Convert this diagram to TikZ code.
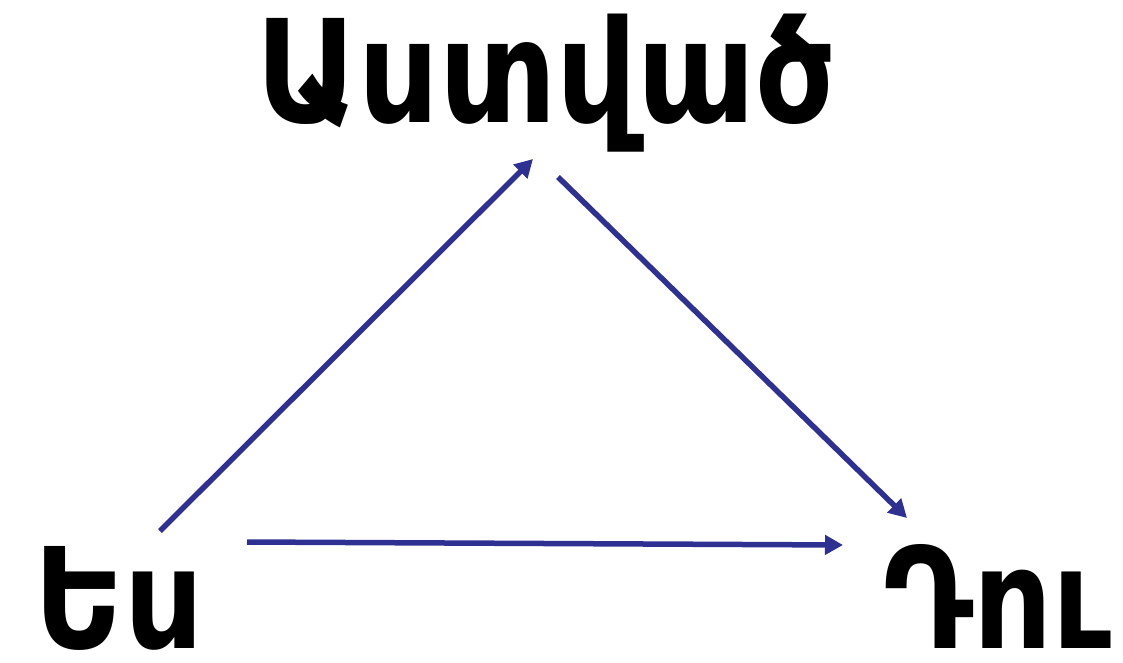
\documentclass[tikz,border=0pt]{standalone}
\usepackage{fontspec}
\newfontfamily\armfont{DejaVu Sans}
\usetikzlibrary{arrows.meta}
\definecolor{arrowblue}{HTML}{2E3192}
\newcommand{\narrow}[1]{\scalebox{0.88}[1]{#1}}
\tikzset{
  word/.style={font=\armfont\bfseries\fontsize{140}{140}\selectfont, inner sep=0pt, text=black, text depth=0pt},
  link/.style={draw=arrowblue, line width=5.5pt, -{Triangle[length=18pt,width=19pt]}}
}
\begin{document}
\begin{tikzpicture}[x=1pt,y=-1pt]
\useasboundingbox (0,0) rectangle (1123,663);
\node[word, anchor=base] (god) at (546,123) {\scalebox{1.02}[1.02]{\narrow{Աստված}}};
\node[word, anchor=base west] (me) at (34,648) {\narrow{Ես}};
\node[word, anchor=base east] (you) at (1112,648) {\narrow{Դու}};
\coordinate (a1) at (160,531);
\coordinate (a2) at (533,159);
\coordinate (b1) at (558,177);
\coordinate (b2) at (907,518);
\coordinate (c1) at (247,542);
\coordinate (c2) at (843,545);
\draw[link] (a1) -- (a2);
\draw[link] (b1) -- (b2);
\draw[link] (c1) -- (c2);
\end{tikzpicture}
\end{document}
